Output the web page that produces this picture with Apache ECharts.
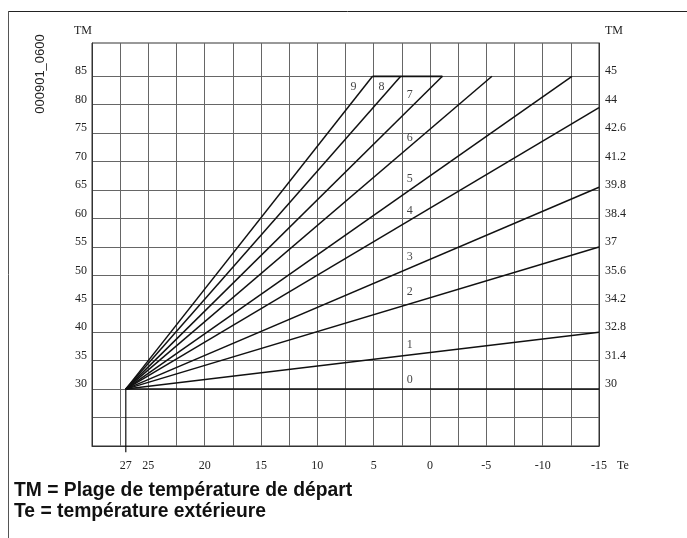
<!DOCTYPE html>
<html>
<head>
<meta charset="utf-8">
<script src="https://cdn.jsdelivr.net/npm/echarts@6/dist/echarts.min.js"></script>
<style>
  html, body { margin: 0; padding: 0; background: #fff; }
  #heatingCurveChart { width: 687px; height: 538px; }
</style>
</head>
<body>
<div id="heatingCurveChart"></div>
<script>
const baseTe = 27;          // point de départ commun des courbes
const baseTm = 30;
const curveNames = ['0', '1', '2', '3', '4', '5', '6', '7', '8', '9'];
const curveEndTe = [-15, -15, -15, -15, -15, -12.6, -5.5, -1.1, 2.6, 5.1];
const curveEndTm = [30, 40, 55, 65.5, 79.5, 85, 85, 85, 85, 85];
// repères des numéros de courbe
const tagTe = [1.8, 1.8, 1.8, 1.8, 1.8, 1.8, 1.8, 1.8, 4.3, 6.8];
const tagTm = [31.6, 37.7, 47.1, 53.2, 61.4, 66.9, 74.1, 81.7, 83.2, 83.2];

const teTicks = [27, 25, 20, 15, 10, 5, 0, -5, -10, -15];
const tmGridLines = [25, 30, 35, 40, 45, 50, 55, 60, 65, 70, 75, 80, 85];
const tmLeftTicks = [30, 35, 40, 45, 50, 55, 60, 65, 70, 75, 80, 85];
const tmRightLabels = ['30', '31.4', '32.8', '34.2', '35.6', '37', '38.4', '39.8', '41.2', '42.6', '44', '45'];

const chart = echarts.init(document.getElementById('heatingCurveChart'));

const serif = { fontFamily: 'Liberation Serif', fontSize: 12, color: '#222' };
const gridColor = '#666';

// une série par courbe de chauffe
const curveSeries = curveNames.map(function (name, i) {
    return {
        name: 'courbe ' + name,
        type: 'line',
        symbol: 'none',
        silent: true,
        lineStyle: { color: '#111', width: 1.5 },
        data: [[baseTe, baseTm], [curveEndTe[i], curveEndTm[i]]]
    };
});

const options = {
    animation: false,
    grid: {
        left: 92, right: 88, top: 43, bottom: 92,
        show: true, borderColor: '#333', borderWidth: 1
    },
    xAxis: {
        type: 'value',
        min: -15, max: 30, interval: 2.5,
        inverse: true,
        name: 'Te',
        nameLocation: 'start',
        nameGap: 18,
        nameTextStyle: Object.assign({ verticalAlign: 'top', padding: [14, 0, 0, 0] }, serif),
        axisLine: { show: true, onZero: false, lineStyle: { color: '#333', width: 1 } },
        axisTick: { show: false },
        splitLine: { show: true, lineStyle: { color: gridColor, width: 1 } },
        axisLabel: Object.assign({ customValues: teTicks, margin: 14 }, serif)
    },
    yAxis: [{
        type: 'value',
        position: 'left',
        min: 20, max: 90.85, interval: 5,
        name: 'TM',
        nameGap: 6,
        nameTextStyle: Object.assign({ align: 'right' }, serif),
        axisLine: { show: true, onZero: false, lineStyle: { color: '#333', width: 1 } },
        axisTick: { show: false, customValues: tmGridLines },
        splitLine: { show: true, lineStyle: { color: gridColor, width: 1 } },
        axisLabel: Object.assign({
            customValues: tmLeftTicks, margin: 5,
            verticalAlign: 'bottom', lineHeight: 10
        }, serif)
    }, {
        type: 'value',
        position: 'right',
        min: 20, max: 90.85, interval: 5,
        name: 'TM',
        nameGap: 6,
        nameTextStyle: Object.assign({ align: 'left', padding: [0, 0, 0, 6] }, serif),
        axisLine: { show: true, onZero: false, lineStyle: { color: '#333', width: 1 } },
        axisTick: { show: false },
        splitLine: { show: false },
        axisLabel: Object.assign({
            customValues: tmLeftTicks, margin: 6,
            verticalAlign: 'bottom', lineHeight: 10,
            formatter: function (v) {
                return tmRightLabels[tmLeftTicks.indexOf(v)];
            }
        }, serif)
    }],
    series: curveSeries.concat([{
        // palier à 85 entre les courbes 9 et 7
        name: 'palier',
        type: 'line',
        symbol: 'none',
        silent: true,
        lineStyle: { color: '#111', width: 1.8 },
        data: [[curveEndTe[9], 85], [curveEndTe[7], 85]]
    }, {
        // repère vertical à 27
        name: 'repere 27',
        type: 'line',
        symbol: 'none',
        silent: true,
        clip: false,
        lineStyle: { color: '#111', width: 1.2 },
        data: [[baseTe, baseTm], [baseTe, 18.9]]
    }, {
        name: 'numeros',
        type: 'scatter',
        symbolSize: 0.1,
        silent: true,
        itemStyle: { color: '#fff' },
        label: {
            show: true,
            position: 'inside',
            fontFamily: 'Liberation Serif',
            fontSize: 12,
            color: '#111',
            textBorderWidth: 0,
            formatter: function (p) { return p.data[2]; }
        },
        data: curveNames.map(function (name, i) {
            return [tagTe[i], tagTm[i], name];
        })
    }]),
    graphic: [
        { type: 'line', shape: { x1: 8, y1: 11.5, x2: 687, y2: 11.5 }, style: { stroke: '#222', lineWidth: 1 } },
        { type: 'line', shape: { x1: 8.5, y1: 11, x2: 8.5, y2: 538 }, style: { stroke: '#555', lineWidth: 1 } },
        {
            type: 'text', x: 40, y: 74, rotation: Math.PI / 2,
            style: {
                text: '000901_0600', fill: '#222',
                font: '13px "Liberation Sans"', align: 'center', verticalAlign: 'middle'
            }
        },
        {
            type: 'text', x: 14, y: 491,
            style: {
                text: 'TM = Plage de température de départ', fill: '#111',
                font: 'bold 19.3px "Liberation Sans"', verticalAlign: 'middle'
            }
        },
        {
            type: 'text', x: 14, y: 512,
            style: {
                text: 'Te = température extérieure', fill: '#111',
                font: 'bold 19.3px "Liberation Sans"', verticalAlign: 'middle'
            }
        }
    ]
};

chart.setOption(options);
</script>
</body>
</html>
